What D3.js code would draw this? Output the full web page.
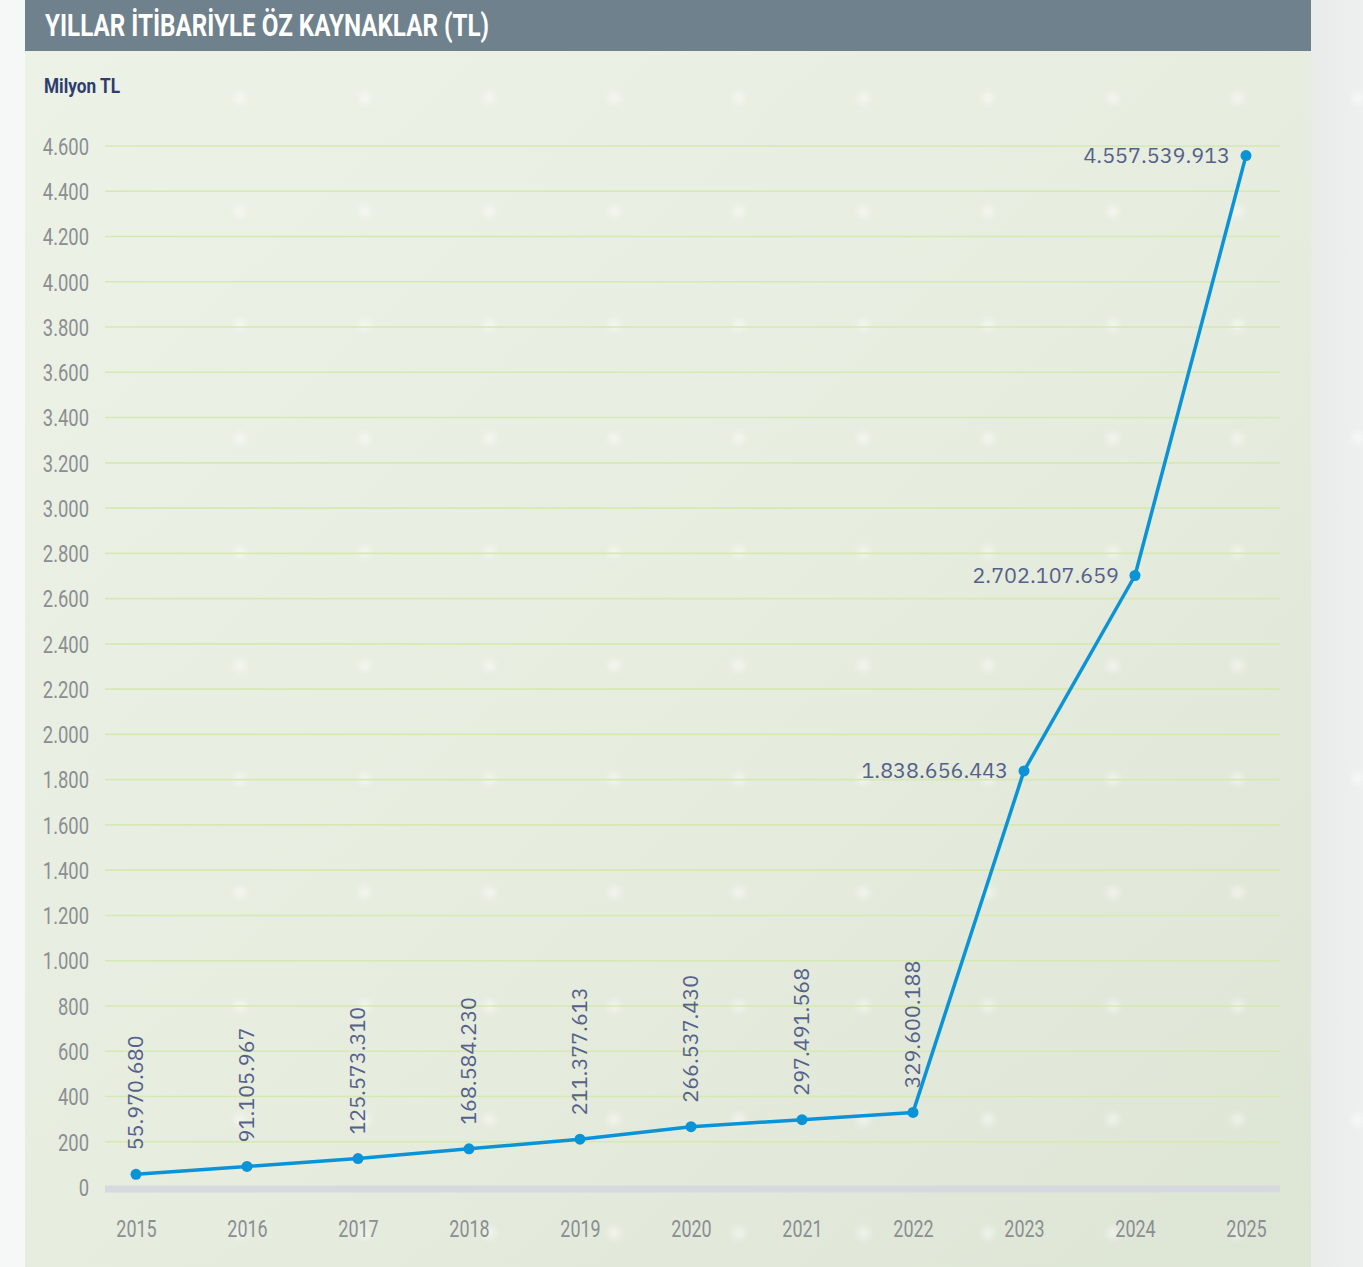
<!DOCTYPE html>
<html>
<head>
<meta charset="utf-8">
<style>
  body { margin: 0; background: #f3f4f4; }
  svg { display: block; }
</style>
<script src="https://d3js.org/d3.v7.min.js"></script>
</head>
<body>
<svg id="chart" width="1363" height="1267"></svg>
<script>
// years and equity (million TL)
const years = [2015, 2016, 2017, 2018, 2019, 2020, 2021, 2022, 2023, 2024, 2025];
const equity = [55.970680, 91.105967, 125.573310, 168.584230, 211.377613, 266.537430, 297.491568, 329.600188, 1838.656443, 2702.107659, 4557.539913];
const valueLabels = ["55.970.680", "91.105.967", "125.573.310", "168.584.230", "211.377.613", "266.537.430", "297.491.568", "329.600.188", "1.838.656.443", "2.702.107.659", "4.557.539.913"];
const yTicks = [0, 200, 400, 600, 800, 1000, 1200, 1400, 1600, 1800, 2000, 2200, 2400, 2600, 2800, 3000, 3200, 3400, 3600, 3800, 4000, 4200, 4400, 4600];

const condensed = "'Roboto', 'Noto Sans', sans-serif";
const svg = d3.select("#chart");

// page backdrop
const defs = svg.append("defs");
const bg = defs.append("linearGradient").attr("id", "bg")
  .attr("x1", "0").attr("y1", "0").attr("x2", "1").attr("y2", "1");
bg.append("stop").attr("offset", "0").attr("stop-color", "#ecf2e6");
bg.append("stop").attr("offset", "0.55").attr("stop-color", "#e6ecde");
bg.append("stop").attr("offset", "1").attr("stop-color", "#dde5d5");
const side = defs.append("linearGradient").attr("id", "side")
  .attr("x1", "0").attr("y1", "0").attr("x2", "1").attr("y2", "0");
side.append("stop").attr("offset", "0").attr("stop-color", "#e9ebeb");
side.append("stop").attr("offset", "1").attr("stop-color", "#eef0ef");
defs.append("filter").attr("id", "blur").append("feGaussianBlur").attr("stdDeviation", 3);

svg.append("rect").attr("x", 0).attr("y", 0).attr("width", 25).attr("height", 1267).attr("fill", "#f6f7f7");
svg.append("rect").attr("x", 1311).attr("y", 0).attr("width", 52).attr("height", 1267).attr("fill", "url(#side)");
svg.append("rect").attr("x", 25).attr("y", 51).attr("width", 1286).attr("height", 1216).attr("fill", "url(#bg)");

// faint decorative dots
const dotG = svg.append("g").attr("filter", "url(#blur)").attr("fill", "#ffffff").attr("opacity", 0.5);
for (let i = 0; i < 9; i++) {
  for (let j = 0; j < 11; j++) {
    dotG.append("circle").attr("cx", 240 + i * 124.7).attr("cy", 98 + j * 113.5).attr("r", 6);
  }
}
[98, 438, 778, 1120].forEach(cy => dotG.append("circle").attr("cx", 1358).attr("cy", cy).attr("r", 6));

// title bar
svg.append("rect").attr("x", 25).attr("y", 0).attr("width", 1286).attr("height", 51).attr("fill", "#6e818d");
svg.append("text").attr("x", 45).attr("y", 36)
  .attr("fill", "#ffffff").attr("font-family", condensed).attr("font-weight", "bold")
  .attr("font-size", 31).attr("textLength", 444).attr("lengthAdjust", "spacingAndGlyphs")
  .text("YILLAR İTİBARİYLE ÖZ KAYNAKLAR (TL)");
svg.append("text").attr("x", 44).attr("y", 93)
  .attr("fill", "#2d3d6e").attr("font-family", condensed).attr("font-weight", "bold")
  .attr("font-size", 20).attr("textLength", 76).attr("lengthAdjust", "spacingAndGlyphs")
  .text("Milyon TL");

// scales
const x = d3.scaleLinear().domain([2015, 2025]).range([136, 1246]);
const y = d3.scaleLinear().domain([0, 4600]).range([1187, 146]);

// grid + y axis
const yAxis = d3.axisLeft(y).tickValues(yTicks)
  .tickFormat(d => d3.format(",")(d).replace(/,/g, "."))
  .tickSize(0).tickPadding(0);
const gy = svg.append("g").attr("transform", "translate(89,0)").call(yAxis);
gy.select(".domain").remove();
gy.selectAll("text").attr("fill", "#8b8e93").attr("font-family", condensed)
  .attr("font-size", 23).attr("dy", "0.36em").attr("transform", "scale(0.8,1)");

svg.append("g").selectAll("line").data(yTicks.filter(d => d > 0)).join("line")
  .attr("x1", 105).attr("x2", 1280)
  .attr("y1", d => y(d)).attr("y2", d => y(d))
  .attr("stroke", "#d6e9b2").attr("stroke-width", 1.6);
svg.append("line").attr("x1", 105).attr("x2", 1280).attr("y1", y(0) + 2).attr("y2", y(0) + 2)
  .attr("stroke", "#d6d9df").attr("stroke-width", 7);

// x axis
const xAxis = d3.axisBottom(x).tickValues(years).tickFormat(d3.format("d")).tickSize(0).tickPadding(0);
const gx = svg.append("g").attr("transform", "translate(0,1229)").call(xAxis);
gx.select(".domain").remove();
gx.selectAll("text").attr("fill", "#8b8e93").attr("font-family", condensed)
  .attr("font-size", 23).attr("dy", "0.36em").attr("transform", "scale(0.78,1)");

// line + points
const pts = years.map((yr, i) => ({ yr, v: equity[i], label: valueLabels[i] }));
svg.append("path").datum(pts)
  .attr("fill", "none").attr("stroke", "#0b93d8").attr("stroke-width", 3.5)
  .attr("stroke-linejoin", "round")
  .attr("d", d3.line().x(d => x(d.yr)).y(d => y(d.v)));
svg.append("g").selectAll("circle").data(pts).join("circle")
  .attr("cx", d => x(d.yr)).attr("cy", d => y(d.v)).attr("r", 5.5).attr("fill", "#0b93d8");

// value labels
const labelFont = "'IBM Plex Sans', 'Noto Sans', 'Open Sans', sans-serif";
svg.append("g").selectAll("text").data(pts).join("text")
  .attr("fill", "#55618a").attr("font-family", labelFont).attr("font-size", 21.5)
  .attr("transform", d => d.v < 1000
    ? `translate(${x(d.yr) + 7},${y(d.v) - 24}) rotate(-90)`
    : `translate(${x(d.yr) - 16},${y(d.v) + 7})`)
  .attr("text-anchor", d => d.v < 1000 ? "start" : "end")
  .text(d => d.label);
</script>
</body>
</html>
